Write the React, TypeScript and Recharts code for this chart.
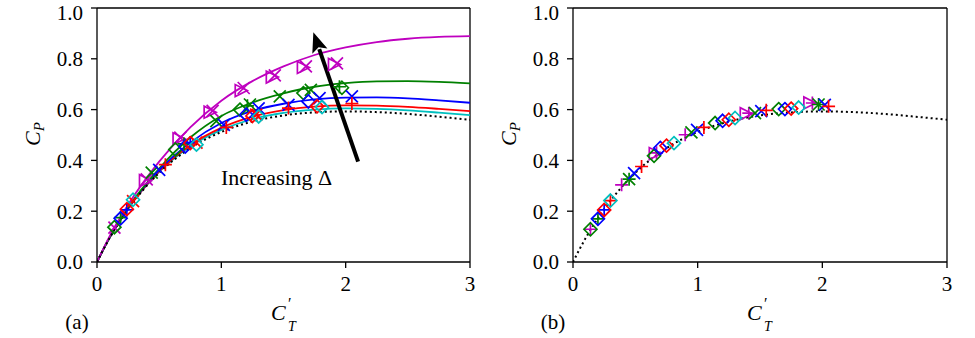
import { ComposedChart, Line, Scatter, XAxis, YAxis, ReferenceLine } from 'recharts';

// model curves, sampled on C_T'
const CT_GRID = [0, 0.1, 0.25, 0.5, 0.75, 1, 1.25, 1.5, 1.75, 2, 2.25, 2.5, 2.75, 3];
const CP_MODEL = [0, 0.093, 0.208, 0.351, 0.448, 0.512, 0.553, 0.577, 0.589, 0.593, 0.59, 0.583, 0.572, 0.56];
const CP_CYAN = [0, 0.094, 0.21, 0.355, 0.455, 0.52, 0.562, 0.587, 0.6, 0.605, 0.603, 0.597, 0.588, 0.578];
const CP_RED = [0, 0.094, 0.21, 0.357, 0.46, 0.528, 0.572, 0.598, 0.612, 0.617, 0.616, 0.611, 0.603, 0.594];
const CP_BLUE = [0, 0.095, 0.212, 0.362, 0.47, 0.547, 0.595, 0.623, 0.64, 0.647, 0.648, 0.644, 0.636, 0.627];
const CP_GREEN = [0, 0.096, 0.215, 0.368, 0.49, 0.575, 0.628, 0.664, 0.69, 0.704, 0.711, 0.712, 0.709, 0.703];
const CP_MAGENTA = [0, 0.1, 0.225, 0.395, 0.53, 0.635, 0.712, 0.77, 0.815, 0.845, 0.866, 0.879, 0.886, 0.889];

const X_TICKS = [0, 1, 2, 3];
const Y_TICKS = [0, 0.2, 0.4, 0.6, 0.8, 1.0];

// (a) measured points [C_T', C_P]
const A_MAGENTA_X = [[0.14, 0.135], [0.4, 0.325], [0.67, 0.49], [0.93, 0.595], [1.18, 0.685], [1.43, 0.735], [1.68, 0.77], [1.93, 0.782]];
const A_MAGENTA_TRI = [[0.39, 0.32], [0.66, 0.485], [0.91, 0.59], [1.16, 0.675], [1.41, 0.728], [1.66, 0.766], [1.91, 0.778]];
const A_GREEN_D = [[0.14, 0.137], [0.63, 0.443], [1.15, 0.6], [1.66, 0.665], [1.97, 0.686]];
const A_GREEN_X = [[0.44, 0.352], [0.96, 0.555], [1.23, 0.62], [1.47, 0.652], [1.72, 0.678]];
const A_GREEN_P = [[0.19, 0.175], [0.7, 0.465], [1.21, 0.615], [1.95, 0.69]];
const A_BLUE_D = [[0.19, 0.172], [0.71, 0.455], [1.2, 0.58], [1.7, 0.632]];
const A_BLUE_X = [[0.5, 0.363], [1.02, 0.54], [1.3, 0.605], [1.54, 0.619], [1.79, 0.645], [2.05, 0.652]];
const A_BLUE_P = [[0.24, 0.205], [0.75, 0.47]];
const A_RED_D = [[0.24, 0.208], [0.75, 0.468], [1.25, 0.575], [1.77, 0.613]];
const A_RED_P = [[0.55, 0.383], [1.04, 0.53], [1.54, 0.606], [2.05, 0.624]];
const A_RED_X = [[0.29, 0.24], [0.8, 0.47], [1.28, 0.58]];
const A_CYAN_D = [[0.29, 0.245], [0.8, 0.462], [1.3, 0.573], [1.81, 0.61]];

// (b) rescaled points
const B_MAGENTA_P = [[0.14, 0.129], [0.39, 0.304], [0.67, 0.43], [0.9, 0.501], [1.41, 0.586], [1.92, 0.626]];
const B_MAGENTA_TRI = [[0.66, 0.427], [1.39, 0.584], [1.9, 0.626]];
const B_GREEN_D = [[0.14, 0.129], [0.65, 0.418], [1.14, 0.547], [1.65, 0.602]];
const B_GREEN_X = [[0.45, 0.326], [0.95, 0.51], [1.46, 0.586], [1.97, 0.62]];
const B_GREEN_P = [[0.2, 0.17], [0.45, 0.326], [1.97, 0.62]];
const B_BLUE_D = [[0.2, 0.17], [0.7, 0.449], [1.2, 0.556], [1.7, 0.602]];
const B_BLUE_X = [[0.49, 0.35], [0.995, 0.52], [1.51, 0.594], [2.02, 0.619]];
const B_BLUE_P = [[0.25, 0.205]];
const B_RED_D = [[0.25, 0.205], [0.75, 0.458], [1.25, 0.56], [1.75, 0.604]];
const B_RED_P = [[0.3, 0.242], [0.55, 0.376], [1.05, 0.53], [1.55, 0.597], [2.05, 0.613]];
const B_CYAN_D = [[0.3, 0.242], [0.81, 0.468], [1.3, 0.567], [1.81, 0.608]];

// annotation arrow in data coords
const ARROW_FROM = { x: 2.1, y: 0.395 };
const ARROW_TO = { x: 1.74, y: 0.905 };

const M = '#bf00bf';
const G = '#008000';
const B = '#0000ff';
const R = '#ff0000';
const C = '#00bfbf';

const FONT = 'Liberation Serif, DejaVu Serif, serif';

const toPts = (arr: number[][]) => arr.map(([x, y]) => ({ x, y }));

const curveRows = CT_GRID.map((x, i) => ({
  x,
  model: CP_MODEL[i],
  c: CP_CYAN[i],
  r: CP_RED[i],
  b: CP_BLUE[i],
  g: CP_GREEN[i],
  m: CP_MAGENTA[i],
}));

type Kind = 'diamond' | 'cross' | 'plus' | 'tri';

function Marker({ cx, cy, kind, color }: { cx: number; cy: number; kind: Kind; color: string }) {
  if (cx == null || cy == null) return null;
  const sw = 1.7;
  if (kind === 'diamond') {
    const s = 6.5;
    return <polygon points={`${cx},${cy - s} ${cx + s},${cy} ${cx},${cy + s} ${cx - s},${cy}`} fill="none" stroke={color} strokeWidth={sw} />;
  }
  if (kind === 'cross') {
    const s = 6;
    return <path d={`M${cx - s},${cy - s}L${cx + s},${cy + s}M${cx - s},${cy + s}L${cx + s},${cy - s}`} stroke={color} strokeWidth={sw} />;
  }
  if (kind === 'plus') {
    const s = 6.5;
    return <path d={`M${cx - s},${cy}L${cx + s},${cy}M${cx},${cy - s}L${cx},${cy + s}`} stroke={color} strokeWidth={sw} />;
  }
  const s = 6;
  return <polygon points={`${cx + s},${cy} ${cx - s},${cy - s} ${cx - s},${cy + s}`} fill="none" stroke={color} strokeWidth={sw} />;
}

const SERIES_A: { data: number[][]; kind: Kind; color: string }[] = [
  { data: A_MAGENTA_TRI, kind: 'tri', color: M },
  { data: A_MAGENTA_X, kind: 'cross', color: M },
  { data: A_GREEN_D, kind: 'diamond', color: G },
  { data: A_GREEN_X, kind: 'cross', color: G },
  { data: A_GREEN_P, kind: 'plus', color: G },
  { data: A_BLUE_D, kind: 'diamond', color: B },
  { data: A_BLUE_X, kind: 'cross', color: B },
  { data: A_BLUE_P, kind: 'plus', color: B },
  { data: A_RED_D, kind: 'diamond', color: R },
  { data: A_RED_P, kind: 'plus', color: R },
  { data: A_RED_X, kind: 'cross', color: R },
  { data: A_CYAN_D, kind: 'diamond', color: C },
];

const SERIES_B: { data: number[][]; kind: Kind; color: string }[] = [
  { data: B_MAGENTA_TRI, kind: 'tri', color: M },
  { data: B_MAGENTA_P, kind: 'plus', color: M },
  { data: B_GREEN_D, kind: 'diamond', color: G },
  { data: B_GREEN_X, kind: 'cross', color: G },
  { data: B_GREEN_P, kind: 'plus', color: G },
  { data: B_BLUE_D, kind: 'diamond', color: B },
  { data: B_BLUE_X, kind: 'cross', color: B },
  { data: B_BLUE_P, kind: 'plus', color: B },
  { data: B_RED_D, kind: 'diamond', color: R },
  { data: B_RED_P, kind: 'plus', color: R },
  { data: B_CYAN_D, kind: 'diamond', color: C },
];

function Arrow(props: any) {
  const { x1, y1, x2, y2 } = props;
  const dx = x2 - x1;
  const dy = y2 - y1;
  const len = Math.sqrt(dx * dx + dy * dy);
  const ux = dx / len;
  const uy = dy / len;
  const headLen = 20;
  const headW = 8;
  const bx = x2 - ux * headLen;
  const by = y2 - uy * headLen;
  const px = -uy;
  const py = ux;
  return (
    <g>
      <line x1={x1} y1={y1} x2={bx + ux * 2} y2={by + uy * 2} stroke="#000" strokeWidth={4} />
      <polygon
        points={`${x2},${y2} ${bx + px * headW},${by + py * headW} ${bx + ux * 4},${by + uy * 4} ${bx - px * headW},${by - py * headW}`}
        fill="#000"
      />
    </g>
  );
}

const tickStyle = { fill: '#000', fontSize: 21, style: { fontFamily: FONT } };

function Panel({ series, curves, width }: { series: typeof SERIES_A; curves: boolean; width: number }) {
  return (
    <ComposedChart width={width} height={338} data={curveRows} margin={{ top: 8, right: 20, bottom: 36, left: 0 }}>
      <XAxis
        type="number"
        dataKey="x"
        domain={[0, 3]}
        ticks={X_TICKS}
        height={40}
        tickSize={6}
        tickMargin={8}
        tick={tickStyle}
        stroke="#000"
        strokeWidth={1.3}
        allowDataOverflow
      />
      <YAxis
        type="number"
        domain={[0, 1]}
        ticks={Y_TICKS}
        width={97}
        tickSize={6}
        tickMargin={8}
        tick={tickStyle}
        tickFormatter={(v: number) => v.toFixed(1)}
        stroke="#000"
        strokeWidth={1.3}
        allowDataOverflow
      />
      <ReferenceLine y={1} stroke="#000" strokeWidth={1.3} />
      <ReferenceLine x={3} stroke="#000" strokeWidth={1.3} />
      {curves && <Line dataKey="c" type="monotone" stroke={C} strokeWidth={1.8} dot={false} isAnimationActive={false} />}
      {curves && <Line dataKey="r" type="monotone" stroke={R} strokeWidth={1.8} dot={false} isAnimationActive={false} />}
      {curves && <Line dataKey="b" type="monotone" stroke={B} strokeWidth={1.8} dot={false} isAnimationActive={false} />}
      {curves && <Line dataKey="g" type="monotone" stroke={G} strokeWidth={1.8} dot={false} isAnimationActive={false} />}
      {curves && <Line dataKey="m" type="monotone" stroke={M} strokeWidth={1.8} dot={false} isAnimationActive={false} />}
      <Line dataKey="model" type="monotone" stroke="#000" strokeWidth={2} strokeDasharray="2 3" dot={false} isAnimationActive={false} />
      {series.map((s, i) => (
        <Scatter
          key={i}
          data={toPts(s.data)}
          dataKey="y"
          isAnimationActive={false}
          shape={(p: any) => <Marker cx={p.cx} cy={p.cy} kind={s.kind} color={s.color} />}
        />
      ))}
      {curves && <ReferenceLine segment={[ARROW_FROM, ARROW_TO]} shape={(p: any) => <Arrow {...p} />} />}
    </ComposedChart>
  );
}

function AxisLabels({ dx, tag }: { dx: number; tag: string }) {
  return (
    <g style={{ fontFamily: FONT }} fill="#000">
      <text transform={`translate(${dx + 40},134) rotate(-90)`} textAnchor="middle" fontSize={22}>
        <tspan fontStyle="italic">C</tspan>
        <tspan fontStyle="italic" fontSize={15} dy={4}>P</tspan>
      </text>
      <text x={dx + 271} y={320} fontSize={22} fontStyle="italic">C</text>
      <text x={dx + 288} y={309} fontSize={16}>′</text>
      <text x={dx + 288} y={331} fontSize={14} fontStyle="italic">T</text>
      <text x={dx + 77} y={329} textAnchor="middle" fontSize={21}>{tag}</text>
    </g>
  );
}

export default function App() {
  return (
    <div style={{ position: 'absolute', left: 0, top: 0, width: 975, height: 338, background: '#fff', fontFamily: FONT }}>
      <div style={{ position: 'absolute', left: 0, top: 0 }}>
        <Panel series={SERIES_A} curves={true} width={490} />
      </div>
      <div style={{ position: 'absolute', left: 476, top: 0 }}>
        <Panel series={SERIES_B} curves={false} width={491} />
      </div>
      <svg width={975} height={338} style={{ position: 'absolute', left: 0, top: 0, pointerEvents: 'none' }}>
        <AxisLabels dx={0} tag="(a)" />
        <AxisLabels dx={476} tag="(b)" />
        <text x={221} y={185} style={{ fontFamily: FONT }} fontSize={22} fill="#000">Increasing Δ</text>
      </svg>
    </div>
  );
}
